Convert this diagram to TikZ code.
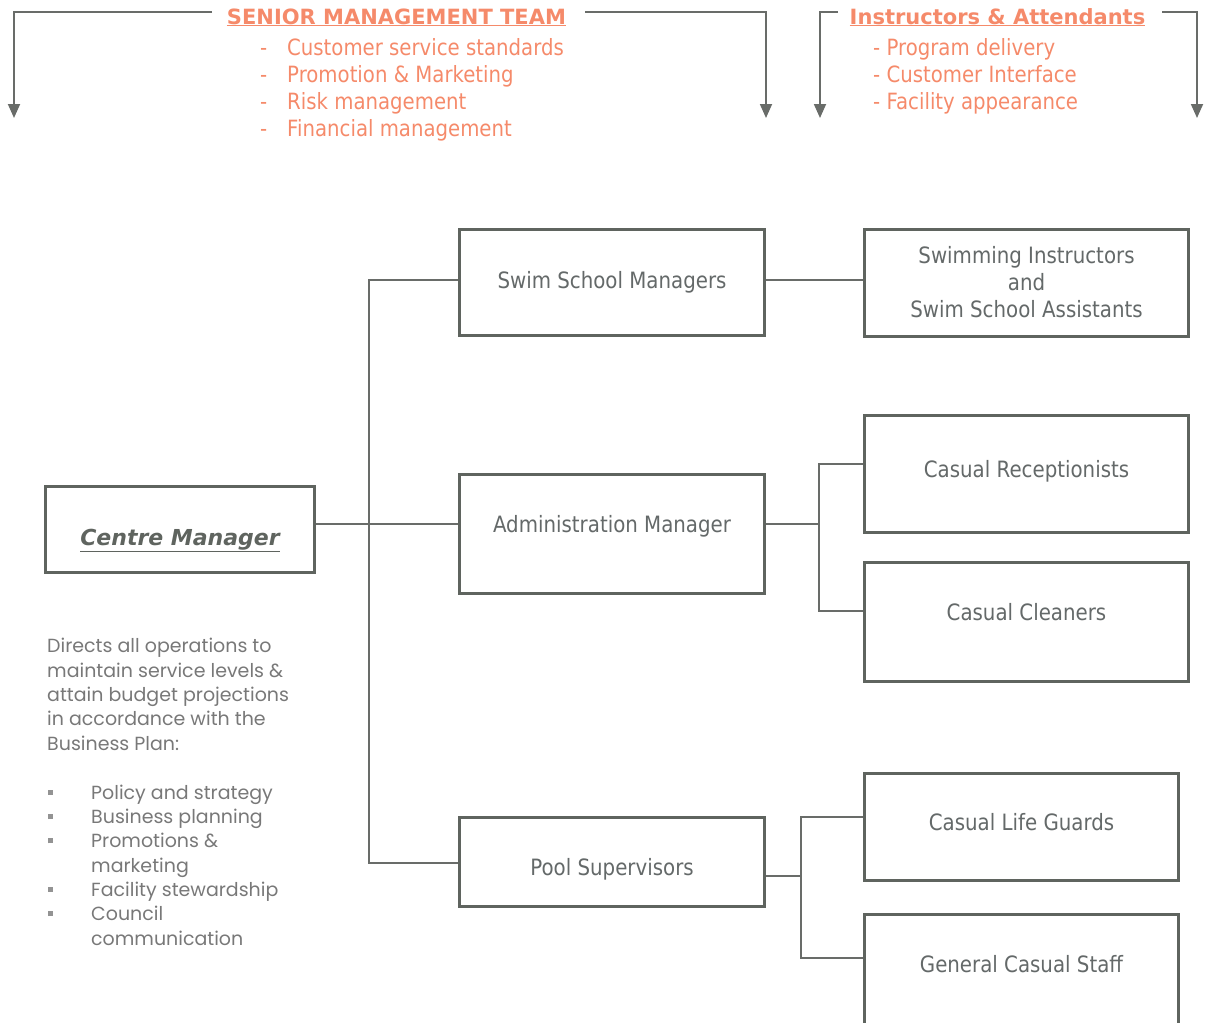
\documentclass[tikz,border=0pt]{standalone}
\usepackage{fontspec}
\usepackage{xcolor}
\usepackage{tikz}
\usetikzlibrary{arrows.meta,positioning}
\newfontfamily\orgfont{DejaVu Sans}[FakeStretch=0.88]
\newfontfamily\cmfont{DejaVu Sans}
\newfontfamily\gothfont{Poppins}
\definecolor{boxgray}  {RGB}{95,100,95}
\definecolor{txtgray}  {RGB}{100,105,105}
\definecolor{linegray} {RGB}{105,108,105}
\definecolor{paragray} {RGB}{120,120,120}
\definecolor{smtorange}{RGB}{245,138,106}
\tikzset{
  orgbox/.style={draw=boxgray, line width=3pt, fill=white, align=center,
                 minimum width=#1, inner sep=2pt, text=txtgray,
                 font=\orgfont\fontsize{22.5}{27}\selectfont},
  orgbox/.default=305pt,
  lift/.style 2 args={text height=#1, text depth=#2},
  conn/.style   ={draw=linegray, line width=1.6pt},
  bracket/.style={draw=linegray, line width=1.8pt,
                  -{Triangle[length=14pt,width=12pt]}},
  smttitle/.style={text=smtorange, inner sep=0pt,
                   font=\cmfont\bfseries\fontsize{21}{26}\selectfont},
  smtlist/.style ={text=smtorange, align=left, inner sep=0pt,
                   font=\orgfont\fontsize{22.4}{27}\selectfont},
  paratext/.style={text=paragray, align=left, inner sep=0pt,
                   font=\gothfont\fontsize{19}{24.3}\selectfont},
}
\newcommand{\sqbullet}{\makebox[44pt][l]{\hspace{1pt}\textcolor{paragray!80}{\rule[4.5pt]{5pt}{5pt}}}}

\begin{document}
\begin{tikzpicture}[x=1pt,y=-1pt]
  \useasboundingbox (0,0) rectangle (1211,1023);
  \clip (0,0) rectangle (1211,1023);

  \node[smttitle, anchor=base] (smt) at (396.5,24)
        {\underline{SENIOR MANAGEMENT TEAM}};
  \node[smtlist, anchor=base west] (smtl) at (260,136)
        {\makebox[27pt][l]{-}Customer service standards\\
         \makebox[27pt][l]{-}Promotion \& Marketing\\
         \makebox[27pt][l]{-}Risk management\\
         \makebox[27pt][l]{-}Financial management};
  \node[smttitle, anchor=base] (ia) at (997.5,24)
        {\underline{Instructors \& Attendants}};
  \node[smtlist, anchor=base west] (ial) at (873,109)
        {- Program delivery\\- Customer Interface\\- Facility appearance};

  \coordinate (smtL) at (212,12);  \coordinate (smtLe) at (14,118);
  \coordinate (smtR) at (585,12);  \coordinate (smtRe) at (766,118);
  \coordinate (iaL)  at (838,12);  \coordinate (iaLe)  at (820,118);
  \coordinate (iaR)  at (1162,12); \coordinate (iaRe)  at (1197,118);
  \draw[bracket](smtL)-|(smtLe);\draw[bracket](smtR)-|(smtRe);
  \draw[bracket](iaL)-|(iaLe);\draw[bracket](iaR)-|(iaRe);

  \coordinate (spA) at (369,280); \coordinate (spB) at (369,863);
  \coordinate (cmj) at (369,524);
  \coordinate (adT) at (819,464); \coordinate (adB) at (819,611);
  \coordinate (adj) at (819,524);
  \coordinate (plT) at (801,817); \coordinate (plB) at (801,958);
  \coordinate (plj) at (801,876);

  \node[orgbox=269pt, minimum height=86pt, lift={37pt}{6pt}, text=boxgray,
        font=\cmfont\bfseries\itshape\fontsize{22}{26}\selectfont]
        (cm) at (180,529.5) {\underline{Centre Manager}};

  \node[orgbox, minimum height=106pt, lift={16pt}{5pt}]
        (ssm) at (612,282.5) {Swim School Managers};
  \node[orgbox, minimum height=119pt, lift={16pt}{20pt}, below=136pt of ssm]
        (adm) {Administration Manager};
  \node[orgbox, minimum height=89pt, lift={31pt}{5pt}, below=221pt of adm]
        (pool) {Pool Supervisors};

  \node[orgbox=324pt, minimum height=107pt, right=97pt of ssm] (swi)
        {Swimming Instructors\\and\\Swim School Assistants};
  \node[orgbox=324pt, minimum height=117pt, lift={16pt}{10pt}]
        (rec) at (1026.5,474) {Casual Receptionists};
  \node[orgbox=324pt, minimum height=119pt, lift={16pt}{20pt}, below=27pt of rec]
        (cln) {Casual Cleaners};
  \node[orgbox=314pt, minimum height=107pt, lift={16pt}{10pt}]
        (lg) at (1021.5,827) {Casual Life Guards};
  \node[orgbox=314pt, minimum height=119pt, lift={16pt}{20pt}, below=31pt of lg]
        (gcs) {General Casual Staff};

  \node[paratext, anchor=base west] (cmtxt) at (47,750)
        {Directs all operations to\\maintain service levels \&\\
         attain budget projections\\in accordance with the\\Business Plan:};
  \node[paratext, anchor=base west] (cmlist) at (47,945)
        {\sqbullet Policy and strategy\\\sqbullet Business planning\\
         \sqbullet Promotions \&\\\hspace*{44pt}marketing\\
         \sqbullet Facility stewardship\\\sqbullet Council\\
         \hspace*{44pt}communication};

  \draw[conn](ssm.west|-spA)--(spA)--(spB)--(pool.west|-spB);
  \draw[conn](cm.east|-cmj)--(adm.west|-cmj);
  \draw[conn](ssm.east|-spA)--(swi.west|-spA);
  \draw[conn](adm.east|-adj)--(adj);
  \draw[conn](rec.west|-adT)--(adT)--(adB)--(cln.west|-adB);
  \draw[conn](pool.east|-plj)--(plj);
  \draw[conn](lg.west|-plT)--(plT)--(plB)--(gcs.west|-plB);
\end{tikzpicture}
\end{document}
